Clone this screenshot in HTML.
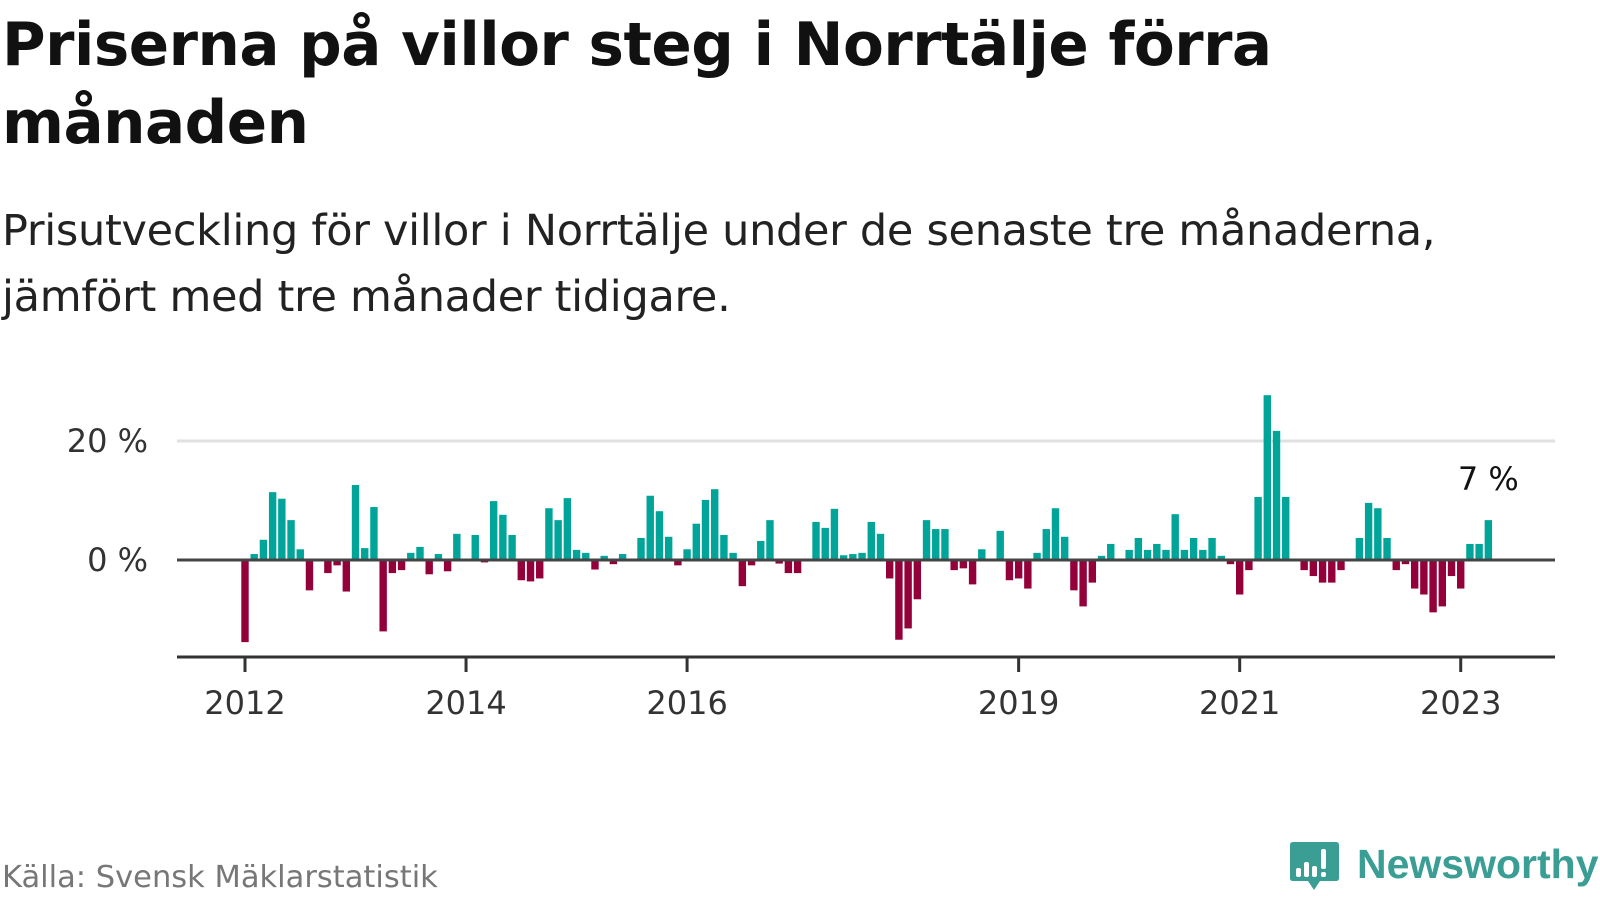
<!DOCTYPE html>
<html><head><meta charset="utf-8">
<style>
html,body{margin:0;padding:0;background:#fff;}
body{width:1600px;height:900px;position:relative;overflow:hidden;font-family:"Liberation Sans","DejaVu Sans",sans-serif;}
.t{position:absolute;white-space:nowrap;}
</style></head>
<body>
<div class="t" style="left:2px;top:7px;font-size:59.5px;font-weight:bold;line-height:78px;color:#111;font-family:'DejaVu Sans','Liberation Sans',sans-serif;letter-spacing:-0.5px;">Priserna på villor steg i Norrtälje förra<br>månaden</div>
<div class="t" style="left:2px;top:198px;font-size:43px;line-height:66px;color:#222;font-family:'DejaVu Sans','Liberation Sans',sans-serif;letter-spacing:-0.3px;">Prisutveckling för villor i Norrtälje under de senaste tre månaderna,<br>jämfört med tre månader tidigare.</div>
<svg id="chart" width="1600" height="900" style="position:absolute;left:0;top:0;" xmlns="http://www.w3.org/2000/svg"></svg>
<div class="t" style="left:2px;top:860px;font-size:30.5px;color:#777;font-family:'DejaVu Sans','Liberation Sans',sans-serif;">Källa: Svensk Mäklarstatistik</div>
<div style="position:absolute;left:1290px;top:842px;">
<svg width="52" height="58" viewBox="0 0 52 58">
<path d="M3 0 H46 Q49 0 49 3 V36 Q49 39 46 39 H30 L24 48 L18 39 H3 Q0 39 0 36 V3 Q0 0 3 0Z" fill="#3a9e94"/>
<rect x="6" y="26" width="5" height="9" rx="2" fill="#fff"/>
<rect x="14" y="20" width="5" height="15" rx="2" fill="#fff"/>
<rect x="22" y="24" width="5" height="11" rx="2" fill="#fff"/>
<rect x="31" y="7" width="5" height="20" rx="2" fill="#fff"/>
<rect x="31" y="30" width="5" height="5" rx="2" fill="#fff"/>
</svg></div>
<div class="t" style="left:1357px;top:841px;font-size:41px;font-weight:bold;color:#3a9e94;font-family:'Liberation Sans',sans-serif;">Newsworthy</div>
<script>
// monthly values starting Jan 2012 (null = no data)
const startYear = 2012;
const values = [
-13.8,1.0,3.4,11.4,10.3,6.7,1.8,-5.1,null,-2.2,-0.9,-5.3,
12.6,2.0,8.9,-12.0,-2.2,-1.7,1.2,2.2,-2.4,1.0,-1.9,4.4,
null,4.2,-0.4,9.9,7.6,4.2,-3.4,-3.6,-3.1,8.7,6.7,10.4,
1.7,1.2,-1.6,0.7,-0.7,1.0,-0.2,3.7,10.8,8.2,3.9,-0.9,
1.8,6.1,10.1,11.9,4.2,1.2,-4.4,-0.9,3.2,6.7,-0.6,-2.2,
-2.2,0.2,6.4,5.4,8.6,0.8,1.0,1.2,6.4,4.4,-3.1,-13.4,
-11.5,-6.6,6.7,5.2,5.2,-1.7,-1.4,-4.1,1.8,null,4.9,-3.4,
-3.1,-4.8,1.2,5.2,8.7,3.9,-5.1,-7.8,-3.8,0.7,2.7,null,
1.7,3.7,1.7,2.7,1.7,7.7,1.7,3.7,1.7,3.7,0.7,-0.7,
-5.8,-1.7,10.6,27.7,21.7,10.6,null,-1.7,-2.7,-3.8,-3.8,-1.7,
null,3.7,9.6,8.7,3.7,-1.7,-0.7,-4.8,-5.8,-8.8,-7.8,-2.7,
-4.8,2.7,2.7,6.7
];
const yTicks = [0, 20];
const yTickLabels = ["0 %", "20 %"];
const xTickYears = [2012, 2014, 2016, 2019, 2021, 2023];
const lastLabel = "7 %";

const svg = document.getElementById('chart');
const NS = 'http://www.w3.org/2000/svg';
const x0 = 245, monthW = 9.21, yZero = 560, pxPer = 5.95, left = 177, right = 1555, axisY = 657;
const xScale = m => x0 + m * monthW;
const yScale = v => yZero - v * pxPer;
function mk(tag, attrs){const e=document.createElementNS(NS,tag);for(const k in attrs)e.setAttribute(k,attrs[k]);svg.appendChild(e);return e;}

yTicks.forEach((v,i)=>{
  if(v!==0){
    const g=mk('line',{x1:left,x2:right,y1:yScale(v),y2:yScale(v),stroke:'#e0e0e0','stroke-width':3});
    
    
  }
  const t=mk('text',{x:148,y:yScale(v)+11,'text-anchor':'end','font-size':32,fill:'#333','font-family':'DejaVu Sans, Liberation Sans, sans-serif'});
  t.textContent=yTickLabels[i];
  
  
});

values.forEach((v,m)=>{
  if(v===null) return;
  const y=Math.min(yScale(v),yZero), h=Math.abs(yScale(v)-yZero);
  const r=mk('rect',{x:xScale(m)-3.7,y:y,width:7.4,height:h,fill:v>=0?'#00a499':'#93003a'});
  
  
});

const zl=mk('line',{x1:left,x2:right,y1:yZero,y2:yZero,stroke:'#444','stroke-width':3});


const ax=mk('line',{x1:left,x2:right,y1:axisY,y2:axisY,stroke:'#333','stroke-width':3});



xTickYears.forEach(yr=>{
  const x=xScale((yr-startYear)*12);
  const tk=mk('line',{x1:x,x2:x,y1:axisY,y2:axisY+15,stroke:'#333','stroke-width':3});
  
  
  const t=mk('text',{x:x,y:714,'text-anchor':'middle','font-size':32,fill:'#333','font-family':'DejaVu Sans, Liberation Sans, sans-serif'});
  t.textContent=yr;
  
  
});

const lastM=values.length-1;
const lt=mk('text',{x:xScale(lastM),y:yScale(values[lastM])-30,'text-anchor':'middle','font-size':32,fill:'#111','font-family':'DejaVu Sans, Liberation Sans, sans-serif'});
lt.textContent=lastLabel;


</script>
</body></html>
